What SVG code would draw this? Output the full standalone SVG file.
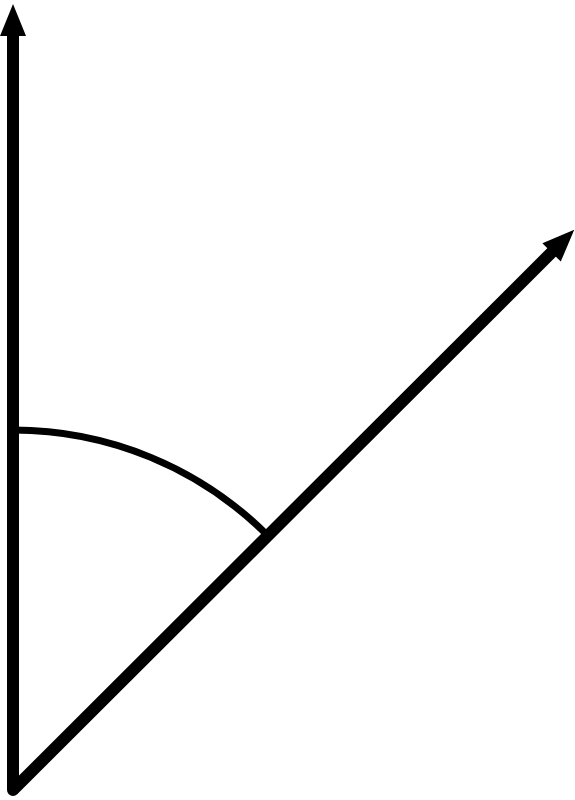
<svg xmlns="http://www.w3.org/2000/svg" width="575" height="800" viewBox="0 0 575 800">
  <defs>
    <marker id="arrow" markerUnits="userSpaceOnUse" markerWidth="34" markerHeight="28" refX="2" refY="13" orient="auto-start-reverse" viewBox="0 0 34 28" overflow="visible">
      <path d="M0,0 L32,13 L0,26 z" fill="#000"/>
    </marker>
  </defs>
  <style>
    .ray { fill: none; stroke: #000; stroke-width: 12; stroke-linejoin: round; stroke-linecap: butt; }
    .arc { fill: none; stroke: #000; stroke-width: 7; }
  </style>
  <rect width="575" height="800" fill="#fff"/>
  <g id="angle-arc">
    <path class="arc" d="M13,430 A360,360 0 0 1 267.6,535.4"/>
  </g>
  <g id="connectors">
    <path class="ray" d="M13,34 L13,790 L553,251" marker-start="url(#arrow)" marker-end="url(#arrow)"/>
  </g>
</svg>
